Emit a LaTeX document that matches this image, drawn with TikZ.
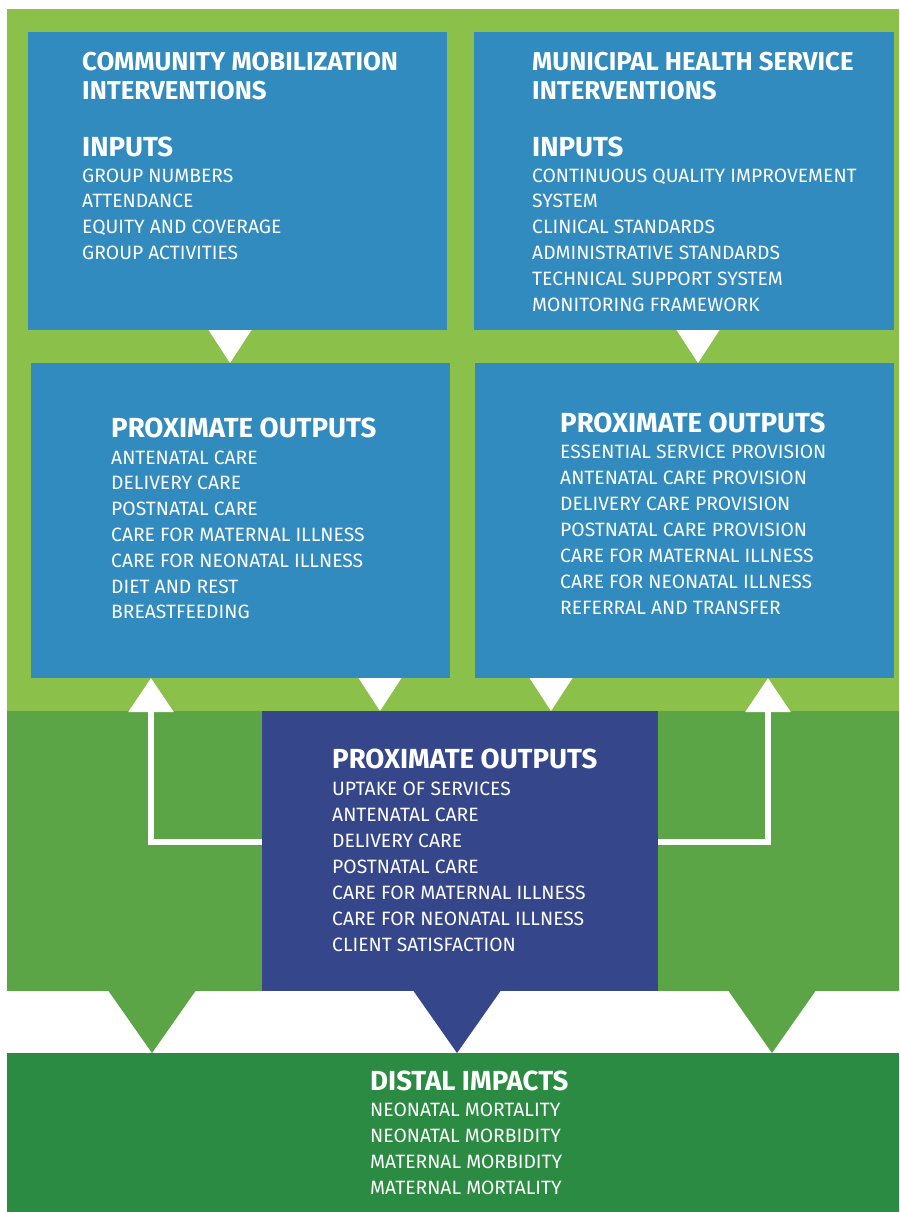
\documentclass[tikz,border=0pt]{standalone}
\usepackage{fontspec}
\setmainfont{Fira Sans}
\usetikzlibrary{arrows.meta}
\definecolor{lightgreen}{HTML}{8BC04A}
\definecolor{midgreen}{HTML}{5CA546}
\definecolor{darkgreen}{HTML}{2B8B43}
\definecolor{boxblue}{HTML}{318BBE}
\definecolor{navyblue}{HTML}{36468A}
\begin{document}
\begin{tikzpicture}[x=1pt,y=-1pt,
    box/.style={rectangle,anchor=north west,inner sep=0pt,outer sep=0pt},
    title/.style={anchor=base west,inner sep=0pt,text=white,font=\fontsize{25.8}{29}\selectfont\bfseries},
    head/.style={anchor=base west,inner sep=0pt,text=white,font=\fontsize{27.6}{30}\selectfont\bfseries},
    item/.style={anchor=base west,inner sep=0pt,text=white,font=\fontsize{19.3}{26}\selectfont},
    back/.style={line width=6pt,white,-{Triangle[width=44pt,length=34pt]}}]
  \useasboundingbox (0,0) rectangle (899,1212);
  \fill[white] (0,0) rectangle (899,1212);
  \fill[lightgreen] (7,9) rectangle (899,711);
  \fill[midgreen] (7,711) rectangle (899,991);

  \node[box,fill=boxblue,minimum width=419pt,minimum height=298pt] (topl) at (28,32) {};
  \node[box,fill=boxblue,minimum width=420pt,minimum height=298pt] (topr) at (474,32) {};
  \node[box,fill=boxblue,minimum width=419pt,minimum height=315pt] (midl) at (31,363) {};
  \node[box,fill=boxblue,minimum width=419pt,minimum height=315pt] (midr) at (475,363) {};
  \node[box,fill=navyblue,minimum width=396pt,minimum height=280pt] (navy) at (262,711) {};
  \node[box,fill=darkgreen,minimum width=892pt,minimum height=159pt] (distal) at (7,1053) {};

  \coordinate (d1) at (230,330);
  \coordinate (d2) at (698,330);
  \coordinate (d3) at (380,678);
  \coordinate (d4) at (551,678);
  \fill[white] ([xshift=-21.5pt]d1) -- ([xshift=21.5pt]d1) -- (d1 |- midl.north) -- cycle;
  \fill[white] ([xshift=-21.5pt]d2) -- ([xshift=21.5pt]d2) -- (d2 |- midr.north) -- cycle;
  \fill[white] ([xshift=-21.5pt]d3) -- ([xshift=21.5pt]d3) -- (d3 |- navy.north) -- cycle;
  \fill[white] ([xshift=-21.5pt]d4) -- ([xshift=21.5pt]d4) -- (d4 |- navy.north) -- cycle;

  \coordinate (b1) at (152,991);
  \coordinate (b2) at (457,991);
  \coordinate (b3) at (772,991);
  \fill[midgreen] ([xshift=-43.5pt]b1) -- ([xshift=43.5pt]b1) -- (b1 |- distal.north) -- cycle;
  \fill[navyblue] ([xshift=-43.5pt]b2) -- ([xshift=43.5pt]b2) -- (b2 |- distal.north) -- cycle;
  \fill[midgreen] ([xshift=-43.5pt]b3) -- ([xshift=43.5pt]b3) -- (b3 |- distal.north) -- cycle;

  \coordinate (lbend) at (151,842);
  \coordinate (rbend) at (768,842);
  \draw[back] (navy.west |- lbend) -- (lbend) -- (midl.south -| lbend);
  \draw[back] (navy.east |- rbend) -- (rbend) -- (midr.south -| rbend);

  \node[title] (cmtitle1) at (82,71) {COMMUNITY MOBILIZATION};
  \node[title] (cmtitle2) at (82,100) {INTERVENTIONS};
  \node[head] (cminputs) at (82,156) {INPUTS};
  \foreach \t [count=\i from 0] in {GROUP NUMBERS,ATTENDANCE,EQUITY AND COVERAGE,GROUP ACTIVITIES}
    \node[item] (cmin-\i) at (82,{182+\i*25.8}) {\t};

  \node[title] (mhtitle1) at (532,71) {MUNICIPAL HEALTH SERVICE};
  \node[title] (mhtitle2) at (532,100) {INTERVENTIONS};
  \node[head] (mhinputs) at (532,156) {INPUTS};
  \foreach \t [count=\i from 0] in {CONTINUOUS QUALITY IMPROVEMENT,SYSTEM,CLINICAL STANDARDS,ADMINISTRATIVE STANDARDS,TECHNICAL SUPPORT SYSTEM,MONITORING FRAMEWORK}
    \node[item] (mhin-\i) at (532,{182+\i*25.8}) {\t};

  \node[head] (cmout) at (111,437) {PROXIMATE OUTPUTS};
  \foreach \t [count=\i from 0] in {ANTENATAL CARE,DELIVERY CARE,POSTNATAL CARE,CARE FOR MATERNAL ILLNESS,CARE FOR NEONATAL ILLNESS,DIET AND REST,BREASTFEEDING}
    \node[item] (cmout-\i) at (111,{464+\i*25.8}) {\t};

  \node[head] (mhout) at (560,432) {PROXIMATE OUTPUTS};
  \foreach \t [count=\i from 0] in {ESSENTIAL SERVICE PROVISION,ANTENATAL CARE PROVISION,DELIVERY CARE PROVISION,POSTNATAL CARE PROVISION,CARE FOR MATERNAL ILLNESS,CARE FOR NEONATAL ILLNESS,REFERRAL AND TRANSFER}
    \node[item] (mhout-\i) at (560,{458+\i*26}) {\t};

  \node[head] (jointout) at (332,768) {PROXIMATE OUTPUTS};
  \foreach \t [count=\i from 0] in {UPTAKE OF SERVICES,ANTENATAL CARE,DELIVERY CARE,POSTNATAL CARE,CARE FOR MATERNAL ILLNESS,CARE FOR NEONATAL ILLNESS,CLIENT SATISFACTION}
    \node[item] (jointout-\i) at (332,{795+\i*26}) {\t};

  \node[head] (impacts) at (370,1090) {DISTAL IMPACTS};
  \foreach \t [count=\i from 0] in {NEONATAL MORTALITY,NEONATAL MORBIDITY,MATERNAL MORBIDITY,MATERNAL MORTALITY}
    \node[item] (impacts-\i) at (370,{1116+\i*26}) {\t};
\end{tikzpicture}
\end{document}
